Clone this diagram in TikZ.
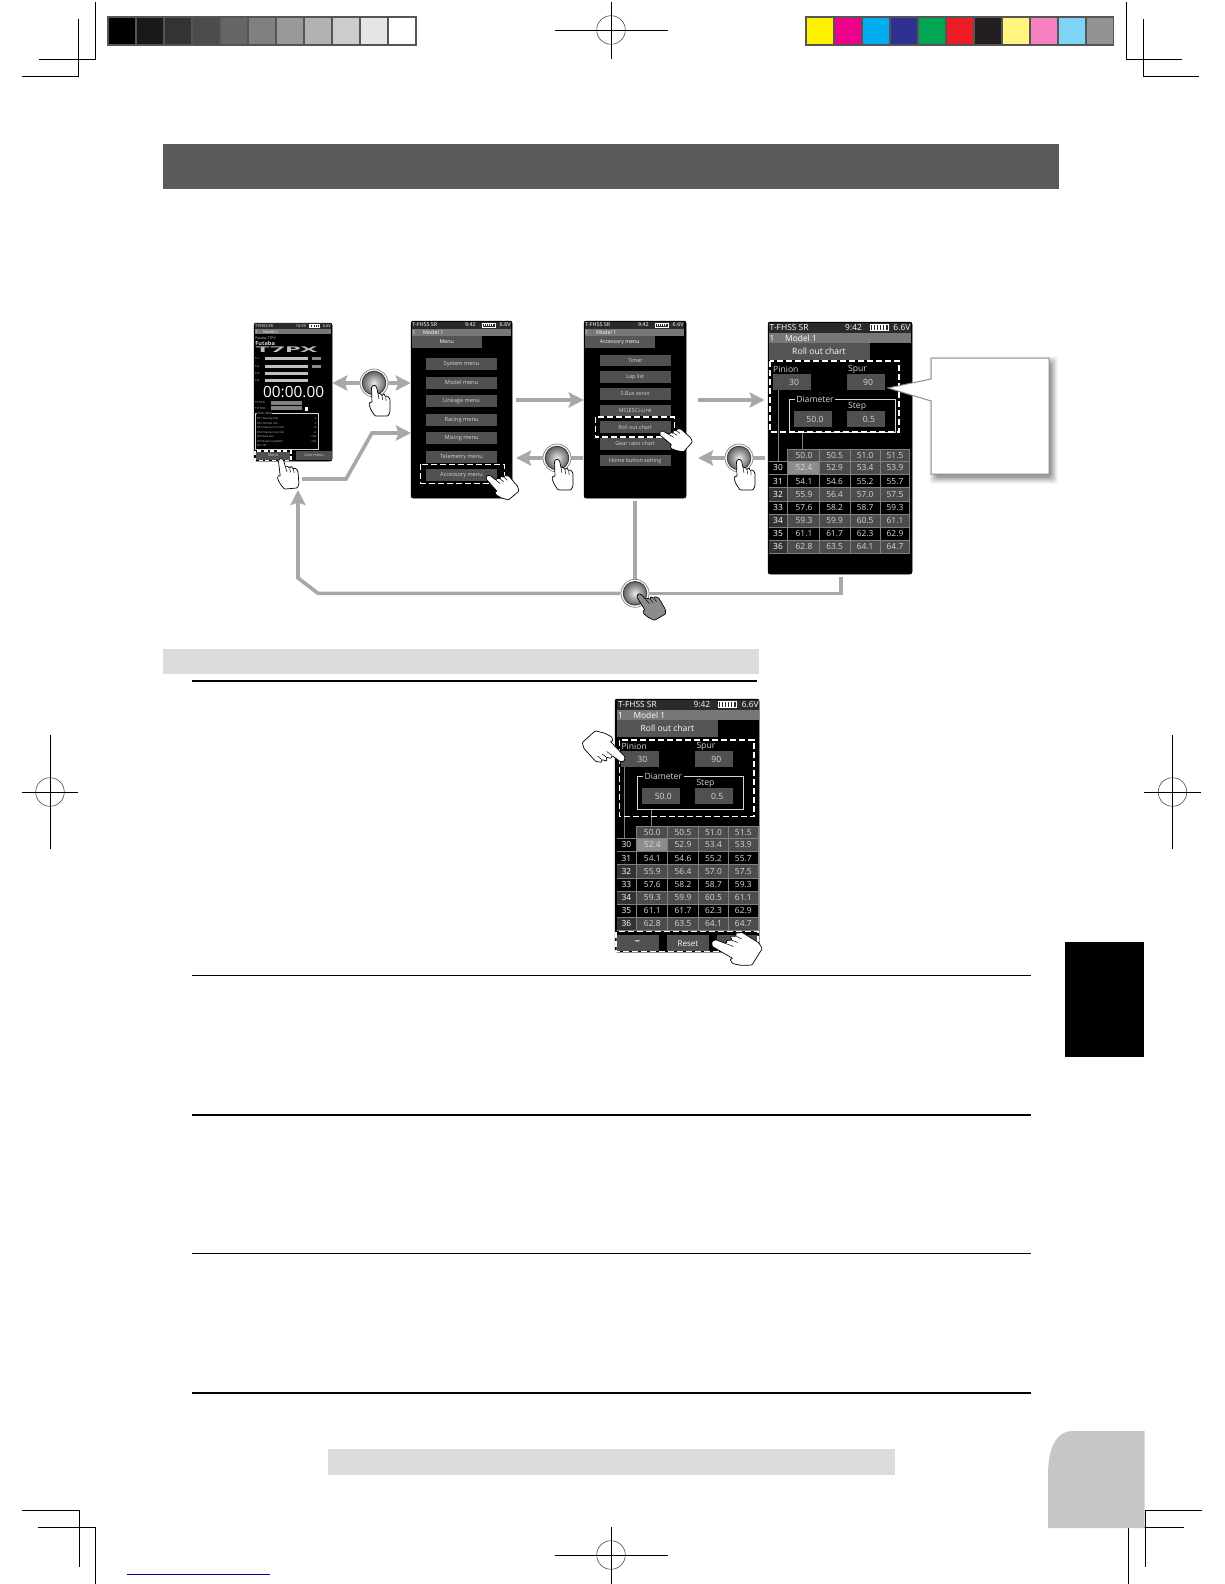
\documentclass[tikz,border=0pt]{standalone}
\usepackage{fontspec}
\setmainfont{Open Sans}
\usetikzlibrary{arrows.meta,calc}
\definecolor{c1}{HTML}{FFF200}\definecolor{c2}{HTML}{EC008C}\definecolor{c3}{HTML}{00AEEF}
\definecolor{c4}{HTML}{2E3192}\definecolor{c5}{HTML}{00A651}\definecolor{c6}{HTML}{ED1C24}
\definecolor{c7}{HTML}{231F20}\definecolor{c8}{HTML}{FFF57F}\definecolor{c9}{HTML}{F581C0}
\definecolor{c10}{HTML}{7FD3F7}\definecolor{c11}{HTML}{939393}
\definecolor{barb}{HTML}{555555}\definecolor{lt}{HTML}{D6D6D6}\definecolor{flowc}{HTML}{A8A8A8}
\definecolor{btnc}{HTML}{505050}\definecolor{band}{HTML}{DCDCDC}\definecolor{rowg}{HTML}{4C4C4C}
\definecolor{hgl}{HTML}{8C8C8C}\definecolor{gridc}{HTML}{808080}\definecolor{topd}{HTML}{2A2A2A}
\definecolor{topg}{HTML}{777777}\definecolor{tabc}{HTML}{555555}\definecolor{tabg}{HTML}{C6C6C6}
\definecolor{titlec}{HTML}{5A5A5A}
\tikzset{
  fs/.style={font=\fontsize{#1}{#1}\selectfont},
  txt/.style={inner sep=0pt,text=lt},
  mark line/.style={line width=0.8pt,black},
  scr/.style={fill=black,draw=black,rounded corners=2pt,inner sep=0pt,line width=0.5pt},
  ddash/.style={white,line width=1.5pt,dash pattern=on 6pt off 3pt},
  flow/.style={flowc,line width=3.6pt},
  arr/.style={-{Stealth[length=15pt,width=15pt,inset=2.5pt]}},
  ball/.style={circle,minimum size=28pt,inner sep=0pt,fill=white,draw=gray,line width=0.7pt},
}
\newcount\labn
\newcommand\lab[4]{\global\advance\labn by 1\relax\node[txt,#1] (t\the\labn) at (#2,#3) {#4};}
\newcommand\ballfill[1]{\shade[inner color=black!8,outer color=black!62] (#1) circle (11.8pt);\draw[black!75,line width=0.9pt] (#1) circle (11.8pt);}
\newcommand\handicon[5]{%
  \begin{scope}[shift={(#1,#2)},rotate=#3,scale=#4]
    \draw[fill=#5,draw=black,line width=0.7pt,rounded corners=0.9pt,line join=round]
      (0,0) -- (2.5,1.5) -- (4,9) -- (6,8) -- (8,11) -- (9.7,8.5) -- (11.7,12) -- (13.2,10.5) -- (16,14)
      -- (16,27) -- (14,31) -- (1,31) -- (-3,25) -- (-5,19.5) -- (-3.5,16.5) -- (-2,18) -- (-2.5,2) -- cycle;
    \draw[draw=black,line width=0.5pt] (4,9) -- (5,14) (8,11) -- (8.7,15) (11.7,12) -- (12.2,16);
  \end{scope}}
% status rows of a screen; #3 scale, #4 font size, #5 clock
\newcommand\scrtop[5]{%
  \begin{scope}[shift={(#1,#2)},scale=#3]
    \fill[topd] (1,0.8) rectangle (143,11);
    \fill[topg] (1,11) rectangle (143,21);
    \lab{fs=#4,anchor=west,text=white}{1.5}{5.7}{T-FHSS SR}
    \lab{fs=#4,anchor=west,text=white}{77}{5.7}{#5}
    \draw[white,line width=0.4pt] (102,2.6) rectangle (120,8.4);
    \foreach \b in {104,107,110,113,116}{\fill[white] (\b,3.4) rectangle (\b+1.7,7.6);}
    \lab{fs=#4,anchor=east,text=white}{142.5}{5.7}{6.6V}
    \lab{fs=#4,anchor=west,text=white}{1.5}{16}{1}
    \lab{fs=#4,anchor=west,text=white}{17}{16}{Model 1}
  \end{scope}}
% tab under the status rows
\newcommand\scrtab[5]{%
  \begin{scope}[shift={(#1,#2)},scale=#3]
    \fill[tabc] (1,21) rectangle (102,38.4);
    \lab{fs=#4,text=white}{51}{29.7}{#5}
  \end{scope}}
% chart screen contents, from the top left corner; #3 x of the pinion lead line
\newcommand\rollscreen[3]{%
  \scrtop{#1}{#2}{1}{8.4}{9:42}
  \scrtab{#1}{#2}{1}{8.6}{Roll out chart}
  \begin{scope}[shift={(#1,#2)}]
    \draw[gridc,line width=0.5pt] (#3,68) -- (#3,139) (34.5,110) -- (34.5,127);
    \lab{fs=8.6,anchor=west}{5}{47.3}{Pinion}
    \lab{fs=8.6,anchor=west}{80}{47.3}{Spur}
    \fill[btnc] (5,52) rectangle (43,68);
    \fill[btnc] (79,52) rectangle (117,68);
    \lab{fs=8.6}{26}{60}{30}
    \lab{fs=8.6}{100}{60}{90}
    \draw[lt,line width=0.5pt] (21,77.5) rectangle (127,110);
    \lab{fs=8.6,fill=black,inner xsep=1.5pt}{47}{77.5}{Diameter}
    \lab{fs=8.6,anchor=west}{80}{84.5}{Step}
    \fill[btnc] (26,89) rectangle (64,105);
    \fill[btnc] (79,89) rectangle (117,105);
    \lab{fs=8.6}{47}{97}{50.0}
    \lab{fs=8.6}{101}{97}{0.5}
    % table
    \fill[rowg] (19.5,127) rectangle (141.5,139.3);
    \foreach \n/\a/\b/\c/\d [count=\i from 0] in
      {30/52.4/52.9/53.4/53.9,31/54.1/54.6/55.2/55.7,32/55.9/56.4/57.0/57.5,33/57.6/58.2/58.7/59.3,
       34/59.3/59.9/60.5/61.1,35/61.1/61.7/62.3/62.9,36/62.8/63.5/64.1/64.7}{%
      \pgfmathsetmacro\yy{139.3+13.17*\i}
      \pgfmathparse{int(mod(\i,2))}
      \ifnum\pgfmathresult=0
        \fill[rowg] (19.5,\yy) rectangle (141.5,\yy+13.17);
        \ifnum\i>0 \fill[black!80] (1,\yy) rectangle (19.5,\yy+13.17);\fi
      \fi
      \ifnum\i=0 \fill[hgl] (19.5,\yy) rectangle (51,\yy+13.17);\fi
      \lab{fs=8.4,text=white}{10}{\yy+6.6}{\n}
      \lab{fs=8.4}{36}{\yy+6.6}{\a}
      \lab{fs=8.4}{66.7}{\yy+6.6}{\b}
      \lab{fs=8.4}{97.2}{\yy+6.6}{\c}
      \lab{fs=8.4}{127}{\yy+6.6}{\d}
    }
    \lab{fs=8.4}{36}{133.2}{50.0}
    \lab{fs=8.4}{66.7}{133.2}{50.5}
    \lab{fs=8.4}{97.2}{133.2}{51.0}
    \lab{fs=8.4}{127}{133.2}{51.5}
    \draw[gridc,line width=0.4pt] (19.5,127) -- (141.5,127) -- (141.5,231.5) -- (1,231.5);
    \foreach \r in {0,...,7}{\draw[gridc,line width=0.4pt] (1,139.3+13.17*\r) -- (141.5,139.3+13.17*\r);}
    \foreach \k in {19.5,51,81.7,111.7}{\draw[gridc,line width=0.4pt] (\k,127) -- (\k,231.5);}
  \end{scope}}
\begin{document}
\begin{tikzpicture}[x=1pt,y=-1pt]
\useasboundingbox (0,0) rectangle (1224,1584);
% --- printer's marks ---
\draw[mark line] (95,2) -- (95,59) -- (39,59);
\draw[mark line] (78.6,19) -- (78.6,76) -- (22,76);
\draw[mark line] (1126,2) -- (1126,59) -- (1182,59);
\draw[mark line] (1143,19) -- (1143,76) -- (1199,76);
\draw[mark line] (22,1510) -- (79,1510) -- (79,1567);
\draw[mark line] (38,1527) -- (95,1527) -- (95,1584);
\draw[mark line] (1201.5,1510) -- (1145,1510) -- (1145,1567);
\draw[mark line] (1184,1527) -- (1128,1527) -- (1128,1584);
\foreach \mx/\my/\hw in {611/30/56.5,50/792/28,1172.5/792/28.5,611/1555/56.5}{
  \draw[line width=0.6pt,black!70] (\mx,\my) circle (14.3pt);
  \draw[mark line] (\mx-\hw,\my) -- (\mx+\hw,\my);
}
\draw[mark line] (611,2) -- (611,59);
\draw[mark line] (611,1527) -- (611,1584);
\draw[mark line] (50,735) -- (50,849);
\draw[mark line] (1172.5,735) -- (1172.5,849);
\draw[line width=1pt,color={rgb,255:red,0;green,0;blue,160}] (127,1574.5) -- (270,1574.5);
% --- colour bars ---
\fill[barb] (107,16) rectangle (416.5,46.5);
\foreach \v [count=\i from 0] in {100,90,80,70,60,50,40,30,20,10,0}{
  \fill[black!\v] (108.6+28*\i,18) rectangle (135+28*\i,44.5);
}
\fill[barb] (805,16) rectangle (1114,46.5);
\foreach \i in {1,...,11}{
  \fill[c\i] (806.6+28*\i-28,18) rectangle (832.8+28*\i-28,44.5);
}
% --- page furniture ---
\fill[titlec] (163,143.5) rectangle (1059,189);
\fill[band] (163,648.5) rectangle (758.5,673.5);
\fill[band] (328,1449) rectangle (895,1474.7);
\foreach \ry/\rx in {680.7/756.5,975.6/1031,1115/1031,1253.4/1031,1392.7/1031}{
  \draw[black,line width=1.6pt] (192,\ry) -- (\rx,\ry);
}
\fill[black] (1064.5,942) rectangle (1144,1056.5);
\fill[tabg] (1048,1528) -- (1048,1475) .. controls (1048,1445) and (1058,1431) .. (1072,1431) -- (1144.5,1431) -- (1144.5,1528) -- cycle;
% --- screens ---
\node[scr,minimum width=78pt,minimum height=138pt] (scrA) at (293,392) {};
\node[scr,minimum width=101pt,minimum height=177pt] (scrB) at (461.5,409.5) {};
\node[scr,minimum width=102pt,minimum height=177pt] (scrC) at (635,409.5) {};
\node[scr,minimum width=144pt,minimum height=252pt] (scrD) at (840,448) {};
\node[scr,minimum width=144pt,minimum height=253pt] (scrE) at (687,825.5) {};
% screen A
\scrtop{254}{323}{0.54}{3.9}{16:59}
\begin{scope}[shift={(254,323)}]
  \lab{fs=3.5,anchor=west}{1.2}{14.7}{Futaba T7PX}
  \lab{fs=5.6,anchor=west,font=\bfseries\fontsize{5.6}{5.6}\selectfont}{1.2}{20.2}{Futaba}
  \lab{anchor=west,text=black!25}{1.2}{27}{\resizebox{62pt}{5.6pt}{\bfseries T7PX}}
  \foreach \yy/\nn in {35.7/1,43.7/2,50.7/3,57.7/4}{
    \lab{fs=2.9,anchor=west}{1}{\yy}{S-\nn}
    \fill[black!25] (11.3,\yy-1.5) rectangle (54,\yy+1.5);
  }
  \fill[black!45] (58,34.2) rectangle (67,37.2);
  \fill[black!45] (58,42.2) rectangle (67,45.2);
  \lab{fs=15.4,text=white}{39.6}{69.3}{00:00.00}
  \lab{fs=2.8,anchor=west}{1}{79.7}{ST Trim}
  \lab{fs=2.8,anchor=west}{1}{85.3}{TH Trim}
  \fill[black!50] (17,77.7) rectangle (48.3,81.7);
  \fill[black!50] (17,83.3) rectangle (48.3,87.3);
  \fill[white] (50.5,83.5) rectangle (53.5,88);
  \draw[lt,line width=0.4pt] (1,90.5) rectangle (64.3,126);
  \lab{fs=2.9,anchor=west,fill=black,inner xsep=0.6pt}{3}{90.5}{Trim / Dial}
  \foreach \ll/\rr [count=\i from 0] in {DT1 Steering trim/0,DT2 Throttle trim/0,DT3 Channel 3 control/+0,DT4 Channel 4 control/+0,DT5 Dual rate/+100,DT6 Brake1 rate(ATC)/+100,DL1 Off/{}}{
    \lab{fs=2.6,anchor=west}{3}{96+4.5*\i}{\ll}
    \lab{fs=2.6,anchor=east}{62.5}{96+4.5*\i}{\rr}
  }
  \fill[btnc] (1,128) rectangle (37,137.2);
  \fill[btnc] (42,128) rectangle (78,137.2);
  \lab{fs=3.8}{19}{132.6}{Menu}
  \lab{fs=3.8}{60}{132.6}{User menu}
  \draw[black,line width=1.5pt] (1,128) rectangle (37,137.4);
  \draw[white,line width=1.4pt,dash pattern=on 4pt off 2.5pt] (1,128) rectangle (37,137.4);
\end{scope}
% screen B
\scrtop{411}{321}{0.7}{5.4}{9:42}
\scrtab{411}{321}{0.7}{5.2}{Menu}
\begin{scope}[shift={(411,321)}]
  \foreach \t [count=\i from 0] in {System menu,Model menu,Linkage menu,Racing menu,Mixing menu,Telemetry menu,Accessory menu}{
    \pgfmathsetmacro\yy{37.3+18.47*\i}
    \fill[btnc] (15,\yy) rectangle (86.3,\yy+12);
    \lab{fs=5.6}{50.5}{\yy+6}{\t}
  }
  \draw[ddash] (9.7,143.3) rectangle (93.3,162.3);
\end{scope}
% screen C
\scrtop{584}{321}{0.7}{5.4}{9:42}
\scrtab{584}{321}{0.7}{5.2}{Accessory menu}
\begin{scope}[shift={(584,321)}]
  \foreach \t [count=\i from 0] in {Timer,Lap list,S.Bus servo,MC(ESC)-Link,Roll out chart,Gear ratio chart,Home button setting}{
    \pgfmathsetmacro\yy{33.7+16.67*\i}
    \fill[btnc] (15.7,\yy) rectangle (86.7,\yy+11.7);
    \lab{fs=5.4}{51.2}{\yy+5.9}{\t}
  }
  \draw[ddash] (11.3,96) rectangle (90.3,116);
\end{scope}
% screen D and E
\rollscreen{768}{322}{10.3}
\draw[ddash] (770,360.8) rectangle (899,432);
\rollscreen{616.3}{699}{8}
\draw[ddash] (619.3,740) rectangle (754,816.7);
\begin{scope}[shift={(615,699)}]
  \fill[btnc] (1,236) rectangle (44,252.3);
  \fill[btnc] (52,236) rectangle (94,252.3);
  \fill[btnc] (102,236) rectangle (143,252.3);
  \lab{fs=9,text=white}{22.5}{243.5}{\bfseries −}
  \lab{fs=8,text=white}{73}{244.5}{Reset}
  \draw[ddash] (1,232.7) rectangle (143,252.5);
\end{scope}
% --- callout ---
\foreach \sh/\op in {8/0.03,7/0.04,6/0.05,5/0.06,4/0.07,3/0.07,2/0.08,1/0.08}{
  \fill[black,opacity=\op,rounded corners=3pt] (931-\sh+6,358-\sh+6) rectangle (1049+\sh+1,474+\sh+2);
}
\draw[fill=white,draw=black!45,line width=1pt] (931,358) -- (1049,358) -- (1049,474) -- (931,474) -- (931,401) -- (888,388) -- (931,379) -- cycle;
% --- touch buttons ---
\node[ball] (btnA) at (374,383) {};
\node[ball] (btnB) at (557,458) {};
\node[ball] (btnC) at (739,458) {};
\node[ball] (btnD) at (635,593.3) {};
\foreach \nm in {btnA,btnB,btnC,btnD}{\ballfill{\nm}}
% --- connectors ---
\coordinate (abS) at (516,400);
\coordinate (cdS) at (698,400);
\coordinate (bTip) at (516,458);
\coordinate (cTip) at (698,458);
\coordinate (mS) at (302,479);
\coordinate (mA) at (346,479);
\coordinate (mB) at (372,433);
\coordinate (mT) at (411,433);
\coordinate (cBot) at (635,501);
\coordinate (dBot) at (841,577);
\coordinate (dTurn) at (841,593.3);
\coordinate (rA) at (318,593.3);
\coordinate (rB) at (298,578);
\coordinate (rT) at (298,490);
\coordinate (bStub) at (583,458);
\coordinate (cStub) at (765,458);
\draw[flow,arr] (btnA.west) -- (btnA.west -| scrA.east);
\draw[flow,arr] (btnA.east) -- (btnA.east -| scrB.west);
\draw[flow,arr] (abS) -- (abS -| scrC.west);
\draw[flow,arr] (cdS) -- ([xshift=-3pt]cdS -| scrD.west);
\draw[flow,arr] (btnB.west) -- (bTip);
\draw[flow] (bStub) -- (btnB.east);
\draw[flow,arr] (btnC.west) -- (cTip);
\draw[flow] (cStub) -- (btnC.east);
\draw[flow,arr] (mS) -- (mA) -- (mB) -- (mT);
\draw[flow] (cBot) -- (btnD.north);
\draw[flow] (dBot) -- (dTurn) -- (btnD.east);
\draw[flow,arr] (btnD.west) -- (rA) -- (rB) -- (rT);
% --- hands ---
\handicon{374}{385}{0}{1}{white}
\handicon{557}{459}{0}{1}{white}
\handicon{739}{459}{0}{1}{white}
\handicon{638}{594}{30}{1}{black!45}
\handicon{280.7}{458.3}{5}{1}{white}
\handicon{486.7}{475.7}{40}{1.05}{white}
\handicon{660}{431.7}{48}{1}{white}
\handicon{624.3}{761}{-138}{1.35}{white}
\handicon{711.7}{941.7}{58}{1.5}{white}
\end{tikzpicture}
\end{document}
